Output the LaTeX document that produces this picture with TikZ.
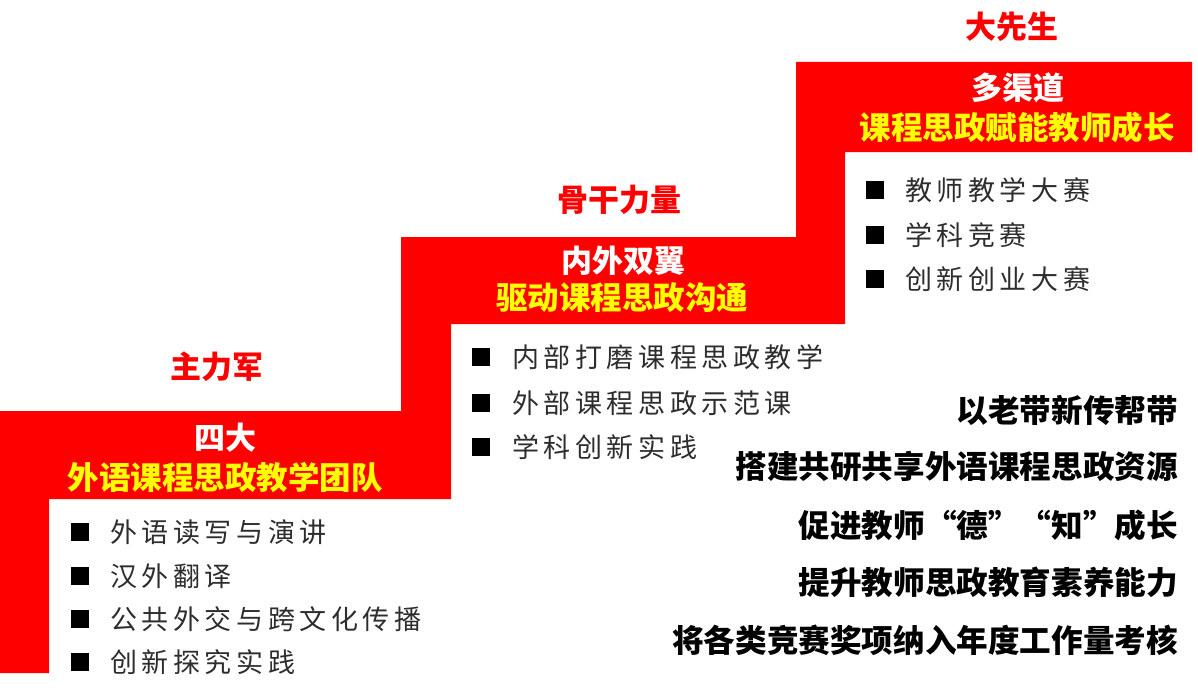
\documentclass[tikz,border=0pt]{standalone}
\usepackage{fontspec}
\setmainfont{Noto Sans CJK SC}
\newfontfamily\cjk{Noto Sans CJK SC}
\newfontfamily\cjklt[LetterSpace=17]{Noto Sans CJK SC}
\definecolor{stepred}{RGB}{255,0,0}
\definecolor{stepyellow}{RGB}{255,255,0}
\definecolor{itemgray}{RGB}{45,45,45}
\newcommand\cnlq{\makebox[1em][r]{“}}
\newcommand\cnrq{\makebox[1em][l]{”}}
\tikzset{
  titletext/.style={font=\cjk\bfseries\fontsize{31}{36}\selectfont, text=stepred, inner sep=0pt},
  headtext/.style={font=\cjk\bfseries\fontsize{31}{36}\selectfont, text=white, inner sep=0pt},
  subtext/.style={font=\cjk\bfseries\fontsize{31.5}{36}\selectfont, text=stepyellow, inner sep=0pt},
  itemtext/.style={font=\cjklt\fontsize{27}{32}\selectfont, text=itemgray, anchor=west, inner sep=0pt},
  bulletbox/.style={fill=black, minimum size=18pt, inner sep=0pt},
  goaltext/.style={font=\cjk\bfseries\fontsize{31.6}{36}\selectfont, text=black, anchor=east, inner sep=0pt}
}
\begin{document}
\begin{tikzpicture}[x=1pt,y=-1pt]
\useasboundingbox (0,0) rectangle (1198,698);
% staircase
\fill[stepred] (0,411) -- (401,411) -- (401,237) -- (796,237) -- (796,62) -- (1192,62)
  -- (1192,152) -- (845,152) -- (845,324) -- (451,324) -- (451,499) -- (49,499)
  -- (49,673) -- (0,673) -- cycle;
% step 1
\node[titletext] (t1) at (217,367) {主力军};
\node[headtext] (h1) at (225,438) {四大};
\node[subtext] (s1) at (225,477) {外语课程思政教学团队};
\node[bulletbox] (b11) at (80,532) {};
\node[itemtext] (i11) at (110,532) {外语读写与演讲};
\node[bulletbox] (b12) at (80,576) {};
\node[itemtext] (i12) at (110,576) {汉外翻译};
\node[bulletbox] (b13) at (80,619) {};
\node[itemtext] (i13) at (110,619) {公共外交与跨文化传播};
\node[bulletbox] (b14) at (80,662) {};
\node[itemtext] (i14) at (110,662) {创新探究实践};
% step 2
\node[titletext] (t2) at (619,200) {骨干力量};
\node[headtext] (h2) at (623,261) {内外双翼};
\node[subtext] (s2) at (622,298) {驱动课程思政沟通};
\node[bulletbox] (b21) at (481,357) {};
\node[itemtext] (i21) at (512,357) {内部打磨课程思政教学};
\node[bulletbox] (b22) at (481,403) {};
\node[itemtext] (i22) at (512,403) {外部课程思政示范课};
\node[bulletbox] (b23) at (481,447) {};
\node[itemtext] (i23) at (512,447) {学科创新实践};
% step 3
\node[titletext] (t3) at (1012,27) {大先生};
\node[headtext] (h3) at (1018,88) {多渠道};
\node[subtext] (s3) at (1017,127) {课程思政赋能教师成长};
\node[bulletbox] (b31) at (875,190) {};
\node[itemtext] (i31) at (905,190) {教师教学大赛};
\node[bulletbox] (b32) at (875,235) {};
\node[itemtext] (i32) at (905,235) {学科竞赛};
\node[bulletbox] (b33) at (875,279) {};
\node[itemtext] (i33) at (905,279) {创新创业大赛};
% goals
\node[goaltext] (g1) at (1178,410) {以老带新传帮带};
\node[goaltext] (g2) at (1178,467) {搭建共研共享外语课程思政资源};
\node[goaltext] (g3) at (1178,525) {促进教师\cnlq 德\cnrq\cnlq 知\cnrq 成长};
\node[goaltext] (g4) at (1178,582) {提升教师思政教育素养能力};
\node[goaltext] (g5) at (1178,640) {将各类竞赛奖项纳入年度工作量考核};
\end{tikzpicture}
\end{document}
